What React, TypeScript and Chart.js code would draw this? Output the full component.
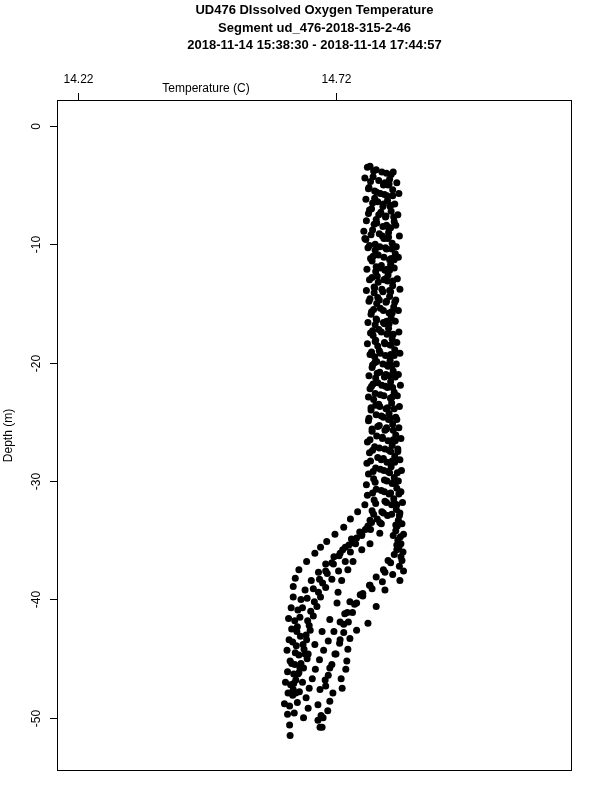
import { useEffect, useRef } from "react";
import { Chart, registerables } from "chart.js";

Chart.register(...registerables);

const titleLines = [
  "UD476 DIssolved Oxygen Temperature",
  "Segment ud_476-2018-315-2-46",
  "2018-11-14 15:38:30 - 2018-11-14 17:44:57",
];
const xAxisTitle = "Temperature (C)";
const yAxisTitle = "Depth (m)";
const xTickValues = [14.22, 14.72];
const yTickValues = [0, -10, -20, -30, -40, -50];

// [temperature (C), depth (m)] per profile
const cast1: [number, number][] = [
  [14.786,-3.4],[14.792,-4.3],[14.784,-5.2],[14.795,-6.1],[14.789,-7.0],[14.798,-7.9],[14.791,-8.8],[14.778,-9.6],[14.796,-10.5],[14.790,-11.4],[14.797,-12.3],[14.802,-13.2],[14.794,-14.1],[14.799,-15.0],[14.788,-15.9],[14.796,-16.8],[14.792,-17.7],[14.801,-18.6],[14.795,-19.5],[14.790,-20.4],[14.797,-21.3],[14.786,-22.2],[14.793,-23.1],[14.788,-24.0],[14.783,-24.9],[14.790,-25.8],[14.781,-26.7],[14.785,-27.6],[14.780,-28.5],[14.783,-29.4],[14.779,-30.3],[14.781,-31.2],[14.776,-32.0],[14.762,-32.6],[14.748,-33.2],[14.735,-33.9],[14.718,-34.5],[14.702,-35.1],[14.690,-35.6],[14.679,-36.1],[14.663,-36.8],[14.648,-37.5],[14.641,-38.2],[14.637,-38.9],[14.637,-39.8],[14.633,-40.7],[14.628,-41.6],[14.634,-42.5],[14.629,-43.4],[14.625,-44.3],[14.631,-45.2],[14.626,-46.1],[14.622,-47.0],[14.627,-47.9],[14.620,-48.8],[14.626,-49.7],[14.630,-50.6],[14.631,-51.5],
];
const cast2: [number, number][] = [
  [14.809,-3.9],[14.815,-4.8],[14.806,-5.7],[14.812,-6.6],[14.803,-7.5],[14.818,-8.4],[14.810,-9.3],[14.805,-10.2],[14.813,-11.1],[14.807,-12.0],[14.816,-12.9],[14.809,-13.8],[14.804,-14.7],[14.812,-15.6],[14.818,-16.5],[14.808,-17.4],[14.814,-18.3],[14.806,-19.2],[14.811,-20.1],[14.817,-21.0],[14.809,-21.9],[14.813,-22.8],[14.805,-23.7],[14.812,-24.6],[14.818,-25.5],[14.810,-26.4],[14.815,-27.3],[14.808,-28.2],[14.813,-29.1],[14.819,-30.0],[14.814,-30.9],[14.818,-31.8],[14.812,-32.7],[14.808,-33.6],[14.805,-34.4],[14.786,-35.3],[14.770,-35.8],[14.753,-36.8],[14.743,-37.5],[14.731,-38.4],[14.724,-39.4],[14.722,-40.3],[14.708,-41.7],[14.693,-42.7],[14.679,-43.8],[14.666,-44.6],[14.650,-45.8],[14.642,-46.8],[14.637,-47.6],[14.645,-48.7],[14.639,-49.6],
];
const cast3: [number, number][] = [
  [14.824,-4.5],[14.830,-5.4],[14.820,-6.3],[14.827,-7.2],[14.833,-8.1],[14.822,-9.0],[14.829,-9.9],[14.835,-10.8],[14.826,-11.7],[14.821,-12.6],[14.830,-13.5],[14.824,-14.4],[14.832,-15.3],[14.827,-16.2],[14.822,-17.1],[14.829,-18.0],[14.834,-18.9],[14.825,-19.8],[14.831,-20.7],[14.826,-21.6],[14.833,-22.5],[14.828,-23.4],[14.823,-24.3],[14.830,-25.2],[14.836,-26.1],[14.829,-27.0],[14.834,-27.9],[14.827,-28.8],[14.833,-29.7],[14.838,-30.6],[14.832,-31.5],[14.837,-32.4],[14.841,-33.3],[14.836,-34.2],[14.840,-35.0],[14.838,-35.8],[14.821,-36.7],[14.815,-37.7],[14.786,-38.8],[14.767,-39.6],[14.747,-40.2],[14.737,-41.2],[14.735,-42.1],[14.728,-43.4],[14.718,-44.6],[14.708,-45.8],[14.699,-46.8],[14.689,-47.6],[14.685,-48.9],[14.691,-49.8],[14.689,-50.8],
];
const cast4: [number, number][] = [
  [14.831,-3.9],[14.838,-4.8],[14.842,-5.7],[14.834,-6.6],[14.840,-7.5],[14.836,-8.4],[14.843,-9.3],[14.837,-10.2],[14.841,-11.1],[14.833,-12.0],[14.839,-12.9],[14.844,-13.8],[14.836,-14.7],[14.841,-15.6],[14.835,-16.5],[14.842,-17.4],[14.838,-18.3],[14.844,-19.2],[14.837,-20.1],[14.841,-21.0],[14.845,-21.9],[14.839,-22.8],[14.843,-23.7],[14.836,-24.6],[14.842,-25.5],[14.846,-26.4],[14.840,-27.3],[14.844,-28.2],[14.847,-29.1],[14.841,-30.0],[14.846,-30.9],[14.849,-31.8],[14.844,-32.7],[14.848,-33.6],[14.851,-34.5],[14.846,-35.3],[14.850,-36.0],[14.848,-36.7],[14.851,-37.6],[14.844,-38.4],[14.815,-39.2],[14.798,-40.6],[14.782,-42.0],[14.760,-42.6],[14.747,-43.3],[14.743,-44.2],[14.741,-45.2],[14.739,-45.9],[14.730,-46.7],[14.732,-47.5],[14.714,-47.9],[14.708,-48.6],[14.704,-49.4],[14.695,-50.0],[14.685,-50.2],[14.693,-50.8],
];
const cast5: [number, number][] = [
  [14.798,-3.7],[14.803,-4.6],[14.795,-5.5],[14.801,-6.4],[14.807,-7.3],[14.799,-8.2],[14.804,-9.1],[14.796,-10.0],[14.802,-10.9],[14.808,-11.8],[14.800,-12.7],[14.794,-13.6],[14.801,-14.5],[14.806,-15.4],[14.798,-16.3],[14.803,-17.2],[14.797,-18.1],[14.804,-19.0],[14.799,-19.9],[14.805,-20.8],[14.801,-21.7],[14.796,-22.6],[14.803,-23.5],[14.798,-24.4],[14.804,-25.3],[14.799,-26.2],[14.795,-27.1],[14.801,-28.0],[14.797,-28.9],[14.793,-29.8],[14.798,-30.7],[14.794,-31.6],[14.790,-32.5],[14.786,-33.3],[14.777,-34.1],[14.760,-34.8],[14.745,-35.4],[14.728,-36.1],[14.712,-36.9],[14.700,-37.6],[14.688,-38.3],[14.676,-39.1],[14.664,-39.9],[14.655,-40.7],[14.650,-41.5],[14.645,-42.3],[14.651,-43.1],[14.643,-43.9],[14.648,-44.7],[14.640,-45.5],[14.646,-46.3],[14.638,-47.1],[14.642,-47.9],
];
const cast6: [number, number][] = [
  [14.812,-5.0],[14.819,-5.9],[14.811,-6.8],[14.816,-7.7],[14.822,-8.6],[14.813,-9.5],[14.818,-10.4],[14.824,-11.3],[14.815,-12.2],[14.820,-13.1],[14.811,-14.0],[14.817,-14.9],[14.823,-15.8],[14.814,-16.7],[14.819,-17.6],[14.825,-18.5],[14.816,-19.4],[14.821,-20.3],[14.814,-21.2],[14.820,-22.1],[14.826,-23.0],[14.817,-23.9],[14.822,-24.8],[14.815,-25.7],[14.821,-26.6],[14.826,-27.5],[14.819,-28.4],[14.824,-29.3],[14.829,-30.2],[14.823,-31.1],[14.828,-32.0],[14.820,-32.9],[14.805,-33.5],[14.787,-34.1],[14.770,-34.6],[14.752,-35.2],[14.733,-35.8],[14.716,-36.4],[14.700,-37.0],[14.686,-37.7],[14.672,-38.4],[14.660,-39.2],[14.652,-40.0],[14.646,-40.9],[14.640,-41.8],[14.644,-42.7],[14.636,-43.6],[14.641,-44.5],[14.634,-45.4],[14.638,-46.3],[14.632,-47.2],[14.636,-48.1],[14.630,-49.0],
];
const cast7: [number, number][] = [
  [14.827,-4.1],[14.821,-5.0],[14.830,-5.9],[14.825,-6.8],[14.832,-7.7],[14.826,-8.6],[14.820,-9.5],[14.828,-10.4],[14.833,-11.3],[14.824,-12.2],[14.830,-13.1],[14.826,-14.0],[14.834,-14.9],[14.829,-15.8],[14.823,-16.7],[14.831,-17.6],[14.827,-18.5],[14.833,-19.4],[14.828,-20.3],[14.835,-21.2],[14.830,-22.1],[14.826,-23.0],[14.833,-23.9],[14.838,-24.8],[14.831,-25.7],[14.835,-26.6],[14.840,-27.5],[14.834,-28.4],[14.839,-29.3],[14.835,-30.2],[14.842,-31.1],[14.838,-32.0],[14.843,-32.9],[14.839,-33.8],[14.845,-34.7],[14.842,-35.6],[14.846,-36.4],[14.843,-37.2],[14.830,-37.9],[14.810,-38.5],[14.790,-39.1],[14.772,-39.7],[14.756,-40.4],[14.742,-41.1],[14.728,-41.9],[14.716,-42.7],[14.705,-43.5],[14.696,-44.3],[14.688,-45.1],[14.680,-45.9],[14.674,-46.7],[14.668,-47.5],[14.662,-48.3],[14.666,-49.2],[14.657,-50.0],
];
const cast8: [number, number][] = [
  [14.781,-3.5],[14.776,-4.4],[14.783,-5.3],[14.778,-6.2],[14.785,-7.1],[14.779,-8.0],[14.774,-8.9],[14.776,-9.5],[14.782,-10.3],[14.787,-11.2],[14.780,-12.1],[14.785,-13.0],[14.779,-13.9],[14.784,-14.8],[14.789,-15.7],[14.782,-16.6],[14.787,-17.5],[14.781,-18.4],[14.786,-19.3],[14.791,-20.2],[14.784,-21.1],[14.789,-22.0],[14.783,-22.9],[14.788,-23.8],[14.784,-24.7],[14.790,-25.6],[14.786,-26.5],[14.791,-27.4],[14.787,-28.3],[14.792,-29.2],[14.796,-30.1],[14.791,-31.0],[14.797,-31.9],[14.793,-32.8],[14.789,-33.5],[14.780,-34.0],[14.770,-34.5],[14.758,-35.3],[14.748,-36.0],[14.738,-36.8],[14.725,-37.6],[14.712,-38.3],[14.700,-39.0],[14.690,-39.8],[14.683,-40.6],[14.676,-41.4],[14.668,-42.2],[14.662,-43.0],[14.656,-43.8],[14.660,-44.6],[14.652,-45.4],[14.648,-46.2],[14.655,-47.0],[14.649,-47.8],
];
const cast9: [number, number][] = [
  [14.818,-4.0],[14.823,-4.9],[14.814,-5.8],[14.826,-6.7],[14.817,-7.6],[14.811,-8.5],[14.822,-9.4],[14.816,-10.3],[14.827,-11.2],[14.819,-12.1],[14.813,-13.0],[14.824,-13.9],[14.818,-14.8],[14.828,-15.7],[14.812,-16.6],[14.821,-17.5],[14.815,-18.4],[14.826,-19.3],[14.819,-20.2],[14.824,-21.1],[14.816,-22.0],[14.829,-22.9],[14.820,-23.8],[14.826,-24.7],[14.818,-25.6],[14.831,-26.5],[14.823,-27.4],[14.829,-28.3],[14.821,-29.2],[14.832,-30.1],[14.826,-31.0],[14.834,-31.9],[14.828,-32.8],[14.836,-33.7],[14.831,-34.6],[14.838,-35.4],[14.833,-36.2],[14.826,-36.9],[14.812,-37.5],[14.798,-38.1],[14.785,-38.8],[14.772,-39.5],[14.760,-40.3],[14.752,-41.1],[14.744,-41.9],[14.735,-42.8],[14.727,-43.7],[14.720,-44.6],[14.712,-45.5],[14.705,-46.4],[14.700,-47.3],
];
const cast10: [number, number][] = [
  [14.793,-3.8],[14.787,-4.7],[14.799,-5.6],[14.791,-6.5],[14.783,-7.4],[14.794,-8.3],[14.788,-9.2],[14.785,-10.1],[14.792,-11.0],[14.798,-11.9],[14.790,-12.8],[14.795,-13.7],[14.786,-14.6],[14.793,-15.5],[14.799,-16.4],[14.791,-17.3],[14.796,-18.2],[14.789,-19.1],[14.795,-20.0],[14.800,-20.9],[14.792,-21.8],[14.806,-22.7],[14.797,-23.6],[14.808,-24.5],[14.801,-25.4],[14.810,-26.3],[14.804,-27.2],[14.812,-28.1],[14.806,-29.0],[14.814,-29.9],[14.808,-30.8],[14.815,-31.7],[14.809,-32.6],[14.800,-33.2],[14.782,-33.8],[14.766,-34.3],[14.750,-34.9],[14.738,-35.6],[14.726,-36.3],[14.715,-37.0],[14.703,-37.8],[14.694,-38.6],[14.686,-39.4],[14.678,-40.2],[14.671,-41.0],[14.665,-41.8],[14.670,-42.6],[14.663,-43.4],[14.658,-44.2],[14.664,-45.0],[14.657,-45.8],
];
const casts = [cast1, cast2, cast3, cast4, cast5, cast6, cast7, cast8, cast9, cast10];

const FONT = '"Liberation Sans", Arial, Helvetica, sans-serif';

const rAxesPlugin = {
  id: "rAxes",
  afterDraw(chart: any) {
    const { ctx, chartArea: a, scales } = chart;
    const xs = scales.x;
    const ys = scales.y;
    ctx.save();
    ctx.strokeStyle = "#000";
    ctx.fillStyle = "#000";
    ctx.lineWidth = 1;
    ctx.strokeRect(a.left + 0.5, a.top + 0.5, a.right - a.left - 1, a.bottom - a.top - 1);
    ctx.font = `12px ${FONT}`;
    ctx.textAlign = "center";
    ctx.textBaseline = "middle";
    for (const v of xTickValues) {
      const px = Math.round(xs.getPixelForValue(v)) + 0.5;
      ctx.beginPath();
      ctx.moveTo(px, a.top);
      ctx.lineTo(px, a.top - 7);
      ctx.stroke();
      ctx.fillText(v.toFixed(2), px, a.top - 20);
    }
    ctx.fillText(xAxisTitle, 206, a.top - 11);
    for (const v of yTickValues) {
      const py = Math.round(ys.getPixelForValue(v)) + 0.5;
      ctx.beginPath();
      ctx.moveTo(a.left, py);
      ctx.lineTo(a.left - 7, py);
      ctx.stroke();
      ctx.save();
      ctx.translate(a.left - 20, py);
      ctx.rotate(-Math.PI / 2);
      ctx.fillText(String(v), 0, 0);
      ctx.restore();
    }
    ctx.save();
    ctx.translate(9, (a.top + a.bottom) / 2);
    ctx.rotate(-Math.PI / 2);
    ctx.fillText(yAxisTitle, 0, 0);
    ctx.restore();
    ctx.font = `bold 13px ${FONT}`;
    const cx = (a.left + a.right) / 2;
    titleLines.forEach((t, i) => {
      ctx.fillText(t, cx, 10.5 + i * 17.5);
    });
    ctx.restore();
  },
};

export default function App() {
  const ref = useRef<HTMLCanvasElement | null>(null);
  useEffect(() => {
    if (!ref.current) return;
    const data = casts.flat().map(([t, d]) => ({ x: t, y: d }));
    const chart = new Chart(ref.current, {
      type: "scatter",
      data: {
        datasets: [
          {
            data,
            backgroundColor: "#000",
            borderColor: "#000",
            borderWidth: 0,
            pointRadius: 3.5,
            pointHoverRadius: 3.5,
          },
        ],
      },
      options: {
        responsive: false,
        animation: false,
        layout: { padding: { left: 57, top: 100, right: 28, bottom: 29 } },
        plugins: { legend: { display: false }, tooltip: { enabled: false } },
        scales: {
          x: { type: "linear", min: 14.1787, max: 15.1779, display: false },
          y: { type: "linear", min: -54.49, max: 2.19, display: false },
        },
      },
      plugins: [rAxesPlugin],
    });
    return () => chart.destroy();
  }, []);
  return (
    <div style={{ position: "absolute", left: 0, top: 0, width: 600, height: 800, background: "#fff" }}>
      <canvas ref={ref} width={600} height={800} style={{ width: 600, height: 800, display: "block" }} />
    </div>
  );
}
